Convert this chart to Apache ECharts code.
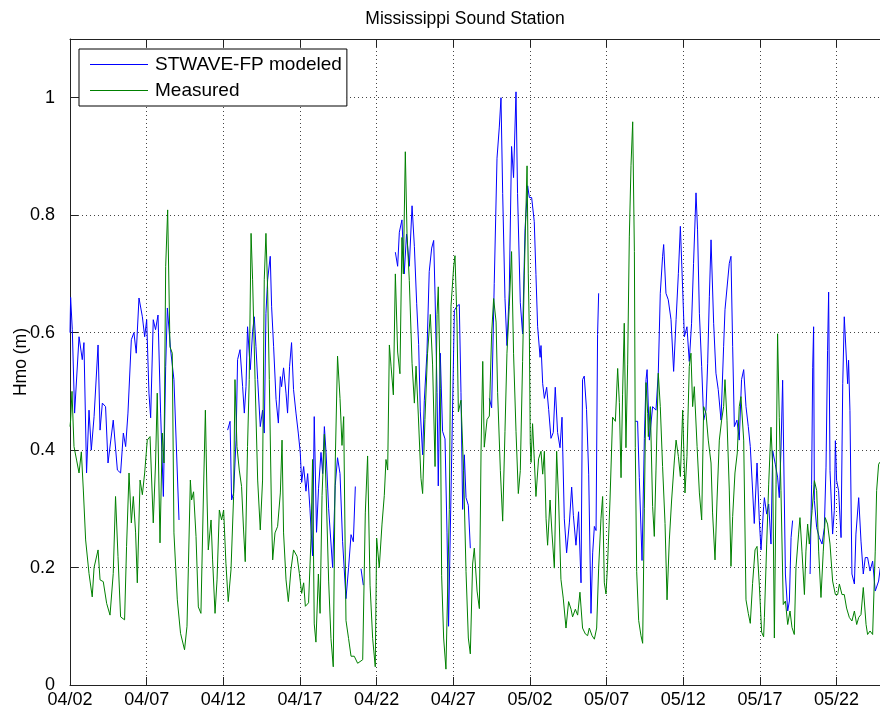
<!DOCTYPE html>
<html>
<head>
<meta charset="utf-8">
<script src="https://cdn.jsdelivr.net/npm/echarts@6/dist/echarts.min.js"></script>
<style>
  html, body { margin: 0; padding: 0; background: #fff; }
  #chart { width: 880px; height: 711px; }
</style>
</head>
<body>
<div id="chart"></div>
<script>
// x values are days since 04/02 00:00, y values are Hmo in metres (null = no data)
var startMonth = 4, startDay = 2
var dayTicks = 5
var modeled = [
  [0,0.60],[0.04,0.66],[0.15,0.605],[0.30,0.463],[0.59,0.593],[0.80,0.554],[0.91,0.583],[1.08,0.361],[1.24,0.468],
  [1.39,0.40],[1.57,0.457],[1.83,0.579],[1.96,0.434],[2.11,0.48],[2.32,0.474],[2.48,0.378],[2.82,0.451],
  [3.09,0.366],[3.30,0.361],[3.48,0.429],[3.63,0.406],[3.78,0.463],[4.00,0.588],[4.17,0.60],[4.32,0.565],
  [4.50,0.659],[4.72,0.627],[4.87,0.593],[5.00,0.622],[5.15,0.497],[5.26,0.455],[5.43,0.622],[5.58,0.605],
  [5.74,0.63],[5.91,0.463],[6.09,0.321],[6.24,0.542],[6.35,0.642],[6.56,0.571],[6.78,0.52],[7.11,0.281],
  [7.5,null],
  [10.28,0.434],[10.44,0.449],[10.54,0.315],[10.67,0.327],[10.83,0.417],[10.93,0.554],[11.09,0.571],
  [11.26,0.508],[11.37,0.463],[11.48,0.508],[11.58,0.61],[11.69,0.565],[11.76,0.537],[11.91,0.602],
  [12.02,0.627],[12.13,0.576],[12.24,0.52],[12.41,0.44],[12.56,0.468],[12.67,0.429],[12.78,0.633],
  [12.89,0.69],[13.06,0.73],[13.15,0.644],[13.28,0.576],[13.44,0.486],[13.59,0.446],[13.72,0.525],
  [13.80,0.508],[13.93,0.54],[14.09,0.497],[14.19,0.463],[14.32,0.542],[14.45,0.583],[14.58,0.503],
  [14.74,0.463],[14.89,0.429],[15.02,0.395],[15.11,0.345],[15.24,0.372],[15.39,0.33],[15.50,0.36],
  [15.65,0.30],[15.82,0.22],[15.93,0.457],[16.08,0.26],[16.21,0.335],[16.37,0.396],[16.48,0.36],
  [16.59,0.44],[16.70,0.396],[16.87,0.30],[17.13,0.20],[17.30,0.34],[17.45,0.387],[17.61,0.36],
  [17.78,0.244],[18.00,0.147],[18.17,0.20],[18.33,0.256],[18.48,0.244],[18.61,0.338],
  [18.8,null],
  [18.98,0.198],[19.13,0.17],
  [19.5,null],
  [21.22,0.737],[21.37,0.713],[21.48,0.771],[21.65,0.792],[21.80,0.70],[21.95,0.768],[22.13,0.713],
  [22.31,0.816],[22.46,0.747],[22.61,0.65],[22.74,0.58],[22.85,0.465],[23.00,0.392],[23.11,0.485],
  [23.28,0.565],[23.43,0.704],[23.59,0.744],[23.72,0.757],[23.81,0.664],[23.94,0.498],[24.02,0.339],
  [24.15,0.565],[24.30,0.432],[24.46,0.419],[24.59,0.259],[24.69,0.10],[25.07,0.638],[25.24,0.645],
  [25.39,0.648],[25.50,0.498],[25.61,0.299],[25.72,0.392],[25.83,0.319],[25.98,0.306],[26.11,0.233],
  [26.5,null],
  [27.35,0.488],[27.50,0.472],[27.67,0.684],[27.85,0.897],[28.00,0.95],[28.11,1.0],[28.22,0.837],
  [28.37,0.658],[28.50,0.578],[28.65,0.671],[28.80,0.917],[28.93,0.864],[29.09,1.01],[29.19,0.837],
  [29.37,0.651],[29.52,0.598],[29.68,0.777],[29.85,0.85],[29.96,0.83],[30.11,0.83],[30.17,0.829],
  [30.28,0.789],[30.39,0.699],[30.50,0.61],[30.66,0.558],[30.72,0.578],[30.83,0.513],[30.94,0.488],
  [31.09,0.507],[31.22,0.469],[31.37,0.42],[31.52,0.43],[31.65,0.507],[31.80,0.43],[31.96,0.404],
  [32.09,0.456],[32.24,0.283],[32.39,0.225],[32.57,0.276],[32.72,0.337],[32.83,0.289],[33.00,0.238],
  [33.17,0.295],[33.33,0.174],[33.43,0.52],[33.54,0.526],[33.69,0.469],[33.83,0.359],[33.98,0.122],
  [34.09,0.225],[34.20,0.27],[34.31,0.263],[34.41,0.597],[34.48,0.667],
  [35.0,null],
  [36.87,0.449],[37.02,0.449],[37.13,0.353],[37.31,0.212],[37.46,0.42],[37.57,0.52],[37.64,0.537],
  [37.79,0.417],[38.00,0.474],[38.22,0.468],[38.37,0.531],[38.50,0.667],[38.65,0.73],[38.72,0.75],
  [38.87,0.667],[39.02,0.656],[39.20,0.622],[39.37,0.534],[39.53,0.622],[39.68,0.701],[39.81,0.781],
  [39.96,0.673],[40.07,0.593],[40.24,0.61],[40.39,0.551],[40.54,0.616],[40.67,0.718],[40.83,0.838],
  [40.93,0.775],[41.05,0.633],[41.20,0.542],[41.33,0.451],[41.48,0.468],[41.59,0.548],[41.70,0.661],
  [41.81,0.758],[41.98,0.616],[42.13,0.531],[42.28,0.503],[42.46,0.451],[42.63,0.576],[42.72,0.639],
  [42.85,0.639],[43.00,0.718],[43.11,0.73],[43.22,0.576],[43.33,0.44],[43.50,0.451],[43.65,0.417],
  [43.80,0.52],[43.94,0.537],[44.09,0.474],[44.24,0.44],[44.37,0.406],[44.52,0.332],[44.63,0.275],
  [44.81,0.378],[44.96,0.28],[45.07,0.23],[45.13,0.228],[45.24,0.304],[45.29,0.319],[45.44,0.291],
  [45.57,0.308],[45.72,0.24],[45.83,0.399],[46.00,0.376],[46.15,0.354],[46.26,0.319],[46.37,0.399],
  [46.48,0.519],[46.66,0.189],[46.81,0.126],[46.92,0.143],[47.03,0.251],[47.13,0.28],
  [47.5,null],
  [48.27,0.189],[48.37,0.342],[48.44,0.541],[48.50,0.61],[48.55,0.314],[48.70,0.268],[48.87,0.251],
  [49.05,0.24],[49.20,0.268],[49.31,0.371],[49.41,0.57],[49.48,0.669],[49.57,0.365],[49.74,0.257],
  [49.85,0.297],[49.92,0.416],[50.00,0.348],[50.13,0.331],[50.29,0.251],[50.40,0.513],[50.50,0.627],
  [50.61,0.63],[50.72,0.513],[50.78,0.553],[50.87,0.467],[51.00,0.189],[51.16,0.172],[51.26,0.257],
  [51.44,0.319],[51.59,0.245],[51.74,0.189],[51.87,0.217],[52.02,0.217],[52.18,0.194],[52.35,0.211],
  [52.52,0.16],[52.74,0.177],[52.85,0.2]
]
var measured = [
  [0,0.44],[0.04,0.451],[0.13,0.50],[0.26,0.406],[0.43,0.383],[0.59,0.361],[0.74,0.397],[0.87,0.332],
  [1.02,0.247],[1.24,0.19],[1.45,0.15],[1.57,0.20],[1.83,0.23],[1.96,0.179],[2.17,0.176],[2.39,0.139],
  [2.61,0.119],[2.82,0.19],[2.97,0.321],[3.13,0.219],[3.30,0.116],[3.56,0.111],[3.69,0.236],[3.85,0.361],
  [4.00,0.276],[4.13,0.321],[4.28,0.259],[4.39,0.174],[4.57,0.349],[4.72,0.324],[4.87,0.361],[5.04,0.417],
  [5.22,0.423],[5.43,0.276],[5.58,0.378],[5.69,0.497],[5.87,0.242],[6.02,0.429],[6.13,0.378],[6.24,0.713],
  [6.37,0.809],[6.52,0.576],[6.67,0.565],[6.78,0.259],[7.00,0.145],[7.21,0.088],[7.47,0.06],[7.63,0.1],
  [7.72,0.20],[7.85,0.349],[7.93,0.315],[8.06,0.329],[8.22,0.253],[8.37,0.133],[8.54,0.122],[8.71,0.332],
  [8.83,0.468],[8.94,0.315],[9.02,0.23],[9.20,0.281],[9.30,0.213],[9.46,0.122],[9.59,0.179],[9.74,0.298],
  [9.89,0.281],[10.02,0.298],[10.17,0.207],[10.32,0.142],[10.50,0.196],[10.67,0.321],[10.76,0.52],
  [10.89,0.406],[11.04,0.366],[11.19,0.338],[11.32,0.264],[11.43,0.21],[11.58,0.406],[11.69,0.52],
  [11.81,0.769],[11.91,0.69],[12.07,0.52],[12.24,0.349],[12.41,0.264],[12.56,0.349],[12.67,0.69],
  [12.78,0.769],[12.89,0.673],[13.00,0.52],[13.15,0.281],[13.22,0.213],[13.37,0.259],[13.54,0.27],
  [13.72,0.327],[13.83,0.417],[13.93,0.259],[14.09,0.179],[14.24,0.142],[14.41,0.196],[14.58,0.23],
  [14.81,0.219],[14.96,0.19],[15.11,0.156],[15.24,0.174],[15.35,0.134],[15.56,0.14],[15.72,0.25],
  [15.82,0.384],[15.93,0.104],[16.04,0.073],[16.20,0.189],[16.31,0.122],[16.44,0.323],[16.59,0.427],
  [16.70,0.335],[16.87,0.177],[17.02,0.079],[17.17,0.031],[17.30,0.378],[17.45,0.56],[17.61,0.488],
  [17.74,0.408],[17.85,0.457],[18.00,0.11],[18.17,0.079],[18.33,0.049],[18.54,0.049],[18.76,0.037],
  [19.09,0.043],[19.26,0.293],[19.41,0.39],[19.57,0.17],[19.74,0.079],[19.91,0.031],[20.00,0.25],
  [20.17,0.20],[20.35,0.274],[20.50,0.323],[20.61,0.384],[20.72,0.366],[20.83,0.579],[20.94,0.543],
  [21.09,0.494],[21.22,0.70],[21.37,0.567],[21.52,0.53],[21.65,0.762],[21.74,0.70],[21.87,0.908],
  [21.98,0.768],[22.13,0.689],[22.31,0.548],[22.46,0.48],[22.57,0.543],[22.72,0.458],[22.89,0.352],
  [23.00,0.326],[23.15,0.452],[23.32,0.565],[23.50,0.631],[23.65,0.545],[23.81,0.372],[23.94,0.631],
  [24.02,0.678],[24.15,0.505],[24.24,0.186],[24.37,0.08],[24.52,0.027],[24.63,0.027],[24.74,0.299],
  [24.85,0.645],[25.02,0.711],[25.11,0.731],[25.24,0.618],[25.33,0.465],[25.50,0.485],[25.67,0.365],
  [25.83,0.193],[25.98,0.08],[26.11,0.053],[26.26,0.206],[26.37,0.233],[26.55,0.16],[26.70,0.13],
  [26.81,0.399],[26.92,0.551],[27.02,0.405],[27.20,0.452],[27.35,0.458],[27.50,0.598],[27.63,0.658],
  [27.79,0.618],[27.89,0.498],[28.07,0.365],[28.22,0.279],[28.37,0.432],[28.50,0.565],[28.65,0.645],
  [28.80,0.738],[28.93,0.565],[29.09,0.432],[29.24,0.326],[29.37,0.365],[29.52,0.551],[29.63,0.698],
  [29.81,0.884],[29.89,0.70],[29.96,0.60],[30.02,0.412],[30.07,0.379],[30.17,0.445],[30.28,0.385],
  [30.39,0.321],[30.56,0.385],[30.72,0.398],[30.83,0.359],[30.94,0.398],[31.05,0.283],[31.15,0.238],
  [31.31,0.315],[31.44,0.257],[31.59,0.199],[31.74,0.398],[31.87,0.315],[32.02,0.18],[32.17,0.148],
  [32.35,0.097],[32.52,0.142],[32.68,0.129],[32.78,0.116],[32.96,0.129],[33.11,0.119],[33.26,0.158],
  [33.43,0.097],[33.61,0.087],[33.76,0.084],[33.87,0.097],[34.05,0.084],[34.20,0.078],[34.35,0.097],
  [34.48,0.199],[34.63,0.283],[34.74,0.321],[34.85,0.174],[34.96,0.155],[35.06,0.205],[35.22,0.315],
  [35.39,0.456],[35.57,0.449],[35.72,0.539],[35.83,0.481],[35.94,0.353],[36.04,0.494],[36.15,0.616],
  [36.26,0.404],[36.37,0.545],[36.48,0.763],[36.59,0.885],[36.70,0.959],[36.81,0.738],[36.87,0.404],
  [36.96,0.193],[37.09,0.11],[37.24,0.084],[37.35,0.071],[37.46,0.3],[37.57,0.515],[37.68,0.462],
  [37.72,0.423],[37.85,0.474],[38.00,0.304],[38.11,0.253],[38.22,0.366],[38.37,0.531],[38.50,0.474],
  [38.65,0.372],[38.81,0.275],[38.94,0.145],[39.09,0.247],[39.24,0.315],[39.42,0.383],[39.53,0.417],
  [39.68,0.389],[39.81,0.355],[39.96,0.468],[40.11,0.327],[40.24,0.389],[40.39,0.542],[40.50,0.565],
  [40.61,0.474],[40.72,0.508],[40.90,0.406],[41.05,0.327],[41.20,0.281],[41.33,0.474],[41.48,0.463],
  [41.63,0.417],[41.81,0.378],[41.91,0.293],[42.07,0.213],[42.20,0.315],[42.35,0.417],[42.50,0.451],
  [42.63,0.474],[42.72,0.52],[42.85,0.451],[43.00,0.332],[43.11,0.202],[43.22,0.287],[43.37,0.361],
  [43.52,0.395],[43.65,0.474],[43.76,0.491],[43.94,0.417],[44.09,0.145],[44.24,0.122],[44.37,0.105],
  [44.52,0.173],[44.68,0.23],[44.81,0.236],[44.96,0.17],[45.11,0.09],[45.24,0.082],[45.29,0.115],
  [45.44,0.24],[45.57,0.342],[45.72,0.439],[45.83,0.371],[45.94,0.08],[46.05,0.342],[46.15,0.598],
  [46.26,0.456],[46.37,0.331],[46.52,0.137],[46.66,0.143],[46.81,0.103],[46.96,0.126],[47.09,0.098],
  [47.24,0.086],[47.35,0.2],[47.52,0.257],[47.61,0.285],[47.74,0.228],[47.90,0.154],[48.00,0.228],
  [48.11,0.274],[48.22,0.24],[48.40,0.297],[48.55,0.348],[48.70,0.331],[48.83,0.228],[48.98,0.149],
  [49.13,0.228],[49.26,0.285],[49.41,0.274],[49.57,0.24],[49.74,0.177],[49.92,0.154],[50.07,0.154],
  [50.18,0.172],[50.35,0.154],[50.50,0.154],[50.65,0.131],[50.83,0.115],[51.00,0.109],[51.16,0.126],
  [51.31,0.103],[51.44,0.115],[51.59,0.12],[51.74,0.166],[51.92,0.103],[52.02,0.086],[52.18,0.092],
  [52.35,0.086],[52.52,0.228],[52.61,0.331],[52.74,0.376],[52.85,0.38]
]
var yTicks = [0, 0.2, 0.4, 0.6, 0.8, 1]

function pad(n) { return (n < 10 ? '0' : '') + n }
function dayLabel(v) {
  var d = new Date(2009, startMonth - 1, startDay + Math.round(v))
  return pad(d.getMonth() + 1) + '/' + pad(d.getDate())
}
function toSeries(arr) {
  return arr.map(function (p) { return [p[0], p[1] === null ? '-' : p[1]] })
}

var font = 'Liberation Sans, Arial, Helvetica, sans-serif'
var axisColor = '#222'
var gridDots = { color: '#444', width: 1, type: [1, 3] }

var chart = echarts.init(document.getElementById('chart'))
chart.setOption({
  animation: false,
  backgroundColor: '#fff',
  title: {
    text: 'Mississippi Sound Station',
    left: 460, top: 5, textAlign: 'center',
    textStyle: { fontFamily: font, fontSize: 17.5, fontWeight: 'normal', color: '#000' }
  },
  legend: {
    orient: 'vertical',
    left: 79, top: 49,
    padding: [6, 5, 6, 11],
    itemGap: 7,
    icon: 'rect',
    itemWidth: 58, itemHeight: 1,
    backgroundColor: '#fff',
    borderColor: '#000', borderWidth: 1,
    textStyle: { fontFamily: font, fontSize: 19, color: '#000', lineHeight: 18, padding: [0, 0, 0, 2] },
    data: ['STWAVE-FP modeled', 'Measured']
  },
  grid: { left: 70, right: 0, top: 39, bottom: 26, containLabel: false, outerBoundsMode: 'none' },
  xAxis: [{
    type: 'value', min: 0, max: 52.83, interval: dayTicks,
    axisLine: { lineStyle: { color: axisColor } },
    axisTick: { inside: true, length: 8, lineStyle: { color: axisColor } },
    axisLabel: { formatter: dayLabel, showMaxLabel: false, margin: 6, color: '#000', fontFamily: font, fontSize: 18 },
    splitLine: { show: true, lineStyle: gridDots }
  }, {
    type: 'value', position: 'top', min: 0, max: 52.83, interval: dayTicks,
    axisLine: { lineStyle: { color: axisColor } },
    axisTick: { inside: true, length: 8, lineStyle: { color: axisColor } },
    axisLabel: { show: false },
    splitLine: { show: false }
  }],
  yAxis: {
    type: 'value', min: 0, max: 1.1, interval: 0.2,
    name: 'Hmo (m)', nameLocation: 'middle', nameGap: 40, nameRotate: 90, nameMoveOverlap: false,
    nameTextStyle: { fontFamily: font, fontSize: 17.5, color: '#000' },
    axisLine: { show: true, lineStyle: { color: axisColor } },
    axisTick: { show: true, inside: true, length: 8, lineStyle: { color: axisColor } },
    axisLabel: {
      showMaxLabel: false, margin: 15, color: '#000', fontFamily: font, fontSize: 18,
      formatter: function (v) { return yTicks.indexOf(Math.round(v * 10) / 10) >= 0 ? String(Math.round(v * 10) / 10) : '' }
    },
    splitLine: { show: true, lineStyle: gridDots }
  },
  series: [{
    name: 'STWAVE-FP modeled', type: 'line', symbol: 'none',
    lineStyle: { color: '#0000ff', width: 1 }, itemStyle: { color: '#0000ff' },
    connectNulls: false, data: toSeries(modeled)
  }, {
    name: 'Measured', type: 'line', symbol: 'none',
    lineStyle: { color: '#008000', width: 1 }, itemStyle: { color: '#008000' },
    connectNulls: false, data: toSeries(measured)
  }]
})
</script>
</body>
</html>
